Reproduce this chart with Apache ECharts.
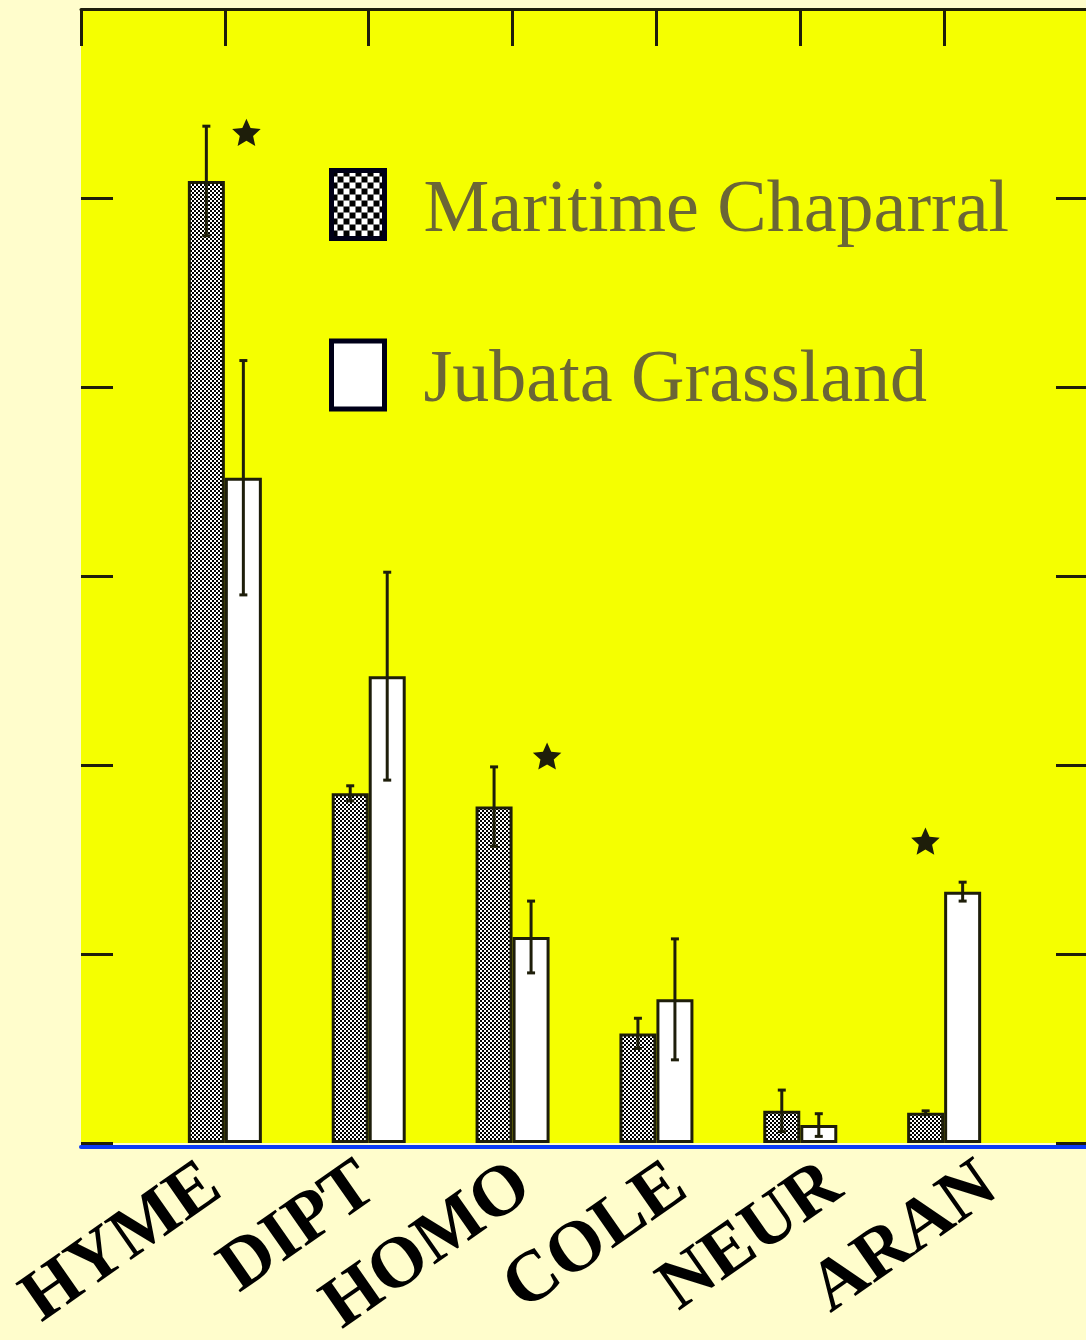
<!DOCTYPE html>
<html>
<head>
<meta charset="utf-8">
<script src="https://cdn.jsdelivr.net/npm/echarts@6/dist/echarts.min.js"></script>
<style>
  html, body { margin: 0; padding: 0; background: #fffdcc; }
  #main { width: 1086px; height: 1340px; }
</style>
</head>
<body>
<div id="main"></div>
<script>
// categories (blank slots at both ends keep the plot edges free)
var categories = ["", "HYME", "DIPT", "HOMO", "COLE", "NEUR", "ARAN", ""];
var maritime = [null, 5.09, 1.85, 1.78, 0.58, 0.17, 0.16, null];
var maritimeErr = [null, 0.29, 0.04, 0.21, 0.08, 0.11, 0.01, null];
var jubata = [null, 3.52, 2.47, 1.09, 0.76, 0.095, 1.33, null];
var jubataErr = [null, 0.62, 0.55, 0.19, 0.32, 0.06, 0.05, null];
// significance stars: x in category units, y in axis units
var starX = [1.15, 3.24, 5.87];
var starY = [5.34, 2.04, 1.59];

var ink = "#1e1e0a";

// checker fill
function checker(cell) {
  var c = document.createElement("canvas");
  c.width = cell * 2;
  c.height = cell * 2;
  var g = c.getContext("2d");
  g.fillStyle = "#fff";
  g.fillRect(0, 0, cell * 2, cell * 2);
  g.fillStyle = "#000";
  g.fillRect(0, 0, cell, cell);
  g.fillRect(cell, cell, cell, cell);
  return { image: c, repeat: "repeat" };
}

var errData = [];
for (var i = 0; i < categories.length; i++) {
  if (maritime[i] != null) errData.push([i, maritime[i], maritimeErr[i], -1]);
  if (jubata[i] != null) errData.push([i, jubata[i], jubataErr[i], 1]);
}
var starData = [];
for (var k = 0; k < starX.length; k++) starData.push([starX[k], starY[k]]);

// the tilted names sit a little wider apart than the bars, so they get their own axis
var labelNames = categories.slice(1, 7);

var myChart = echarts.init(document.getElementById("main"));
myChart.setOption({
  backgroundColor: "#fffdcc",
  animation: false,
  grid: [
    {
      left: 81,
      right: -2,
      top: 9,
      bottom: 197,
      outerBoundsMode: "none",
      containLabel: false,
      show: true,
      backgroundColor: "#f5ff00",
      borderWidth: 0,
    },
    {
      left: 214,
      right: 96,
      top: 1150,
      bottom: 169,
      outerBoundsMode: "none",
      containLabel: false,
    },
  ],
  legend: {
    orient: "vertical",
    left: 324,
    top: 163,
    itemWidth: 53,
    itemHeight: 68,
    itemGap: 90,
    formatter: function (name) {
      return "{t|" + name + "}";
    },
    textStyle: {
      rich: {
        t: {
          fontFamily: "Liberation Serif",
          fontSize: 74,
          color: "#6b6636",
          padding: [14, 0, 0, 34],
        },
      },
    },
    data: [
      {
        name: "Maritime Chaparral",
        icon: "rect",
        itemStyle: { color: checker(6), borderColor: "#000018", borderWidth: 5 },
      },
      {
        name: "Jubata Grassland",
        icon: "rect",
        itemStyle: { color: "#fff", borderColor: "#000018", borderWidth: 5 },
      },
    ],
  },
  xAxis: [
    {
      type: "category",
      data: categories,
      boundaryGap: false,
      position: "bottom",
      offset: 4,
      axisLine: { onZero: false, lineStyle: { color: "#0b3bf5", width: 4 } },
      axisTick: { show: false },
      axisLabel: { show: false },
    },
    {
      type: "category",
      data: categories,
      boundaryGap: false,
      position: "top",
      axisLine: { onZero: false, lineStyle: { color: ink, width: 3 } },
      axisTick: { inside: true, length: 37, lineStyle: { color: ink, width: 3 } },
      axisLabel: { show: false },
    },
    {
      type: "category",
      gridIndex: 1,
      data: labelNames,
      boundaryGap: false,
      position: "bottom",
      axisLine: { show: false, onZero: false },
      axisTick: { show: false },
      axisLabel: {
        interval: 0,
        rotate: 35,
        margin: 8,
        fontFamily: "Liberation Serif",
        fontWeight: "bold",
        fontSize: 72,
        color: "#000",
      },
    },
  ],
  yAxis: [
    {
      type: "value",
      min: 0,
      max: 6,
      interval: 1,
      position: "left",
      axisLine: { show: false },
      axisTick: { show: true, inside: true, length: 32, lineStyle: { color: ink, width: 3 } },
      axisLabel: { show: false },
      splitLine: { show: false },
    },
    {
      type: "value",
      min: 0,
      max: 6,
      interval: 1,
      position: "right",
      offset: -2,
      axisLine: { show: false },
      axisTick: { show: true, inside: true, length: 30, lineStyle: { color: ink, width: 3 } },
      axisLabel: { show: false },
      splitLine: { show: false },
    },
    {
      type: "value",
      gridIndex: 1,
      show: false,
    },
  ],
  series: [
    {
      name: "Maritime Chaparral",
      type: "bar",
      data: maritime,
      barWidth: 37,
      barGap: "0%",
      itemStyle: { color: checker(2), borderColor: ink, borderWidth: 3 },
    },
    {
      name: "Jubata Grassland",
      type: "bar",
      data: jubata,
      barWidth: 37,
      barGap: "0%",
      itemStyle: { color: "#fff", borderColor: ink, borderWidth: 3 },
    },
    {
      // error bars
      type: "custom",
      data: errData,
      z: 10,
      renderItem: function (params, api) {
        var x = api.coord([api.value(0), 0])[0] + api.value(3) * 18.5;
        var hi = api.coord([api.value(0), api.value(1) + api.value(2)])[1];
        var lo = api.coord([api.value(0), api.value(1) - api.value(2)])[1];
        var st = { stroke: ink, lineWidth: 3 };
        return {
          type: "group",
          children: [
            { type: "line", shape: { x1: x, y1: hi, x2: x, y2: lo }, style: st },
            { type: "line", shape: { x1: x - 4, y1: hi, x2: x + 4, y2: hi }, style: st },
            { type: "line", shape: { x1: x - 4, y1: lo, x2: x + 4, y2: lo }, style: st },
          ],
        };
      },
    },
    {
      // significance stars
      type: "custom",
      data: starData,
      z: 10,
      renderItem: function (params, api) {
        var v = api.value(0);
        var a = Math.floor(v);
        var p0 = api.coord([a, api.value(1)]);
        var p1 = api.coord([a + 1, api.value(1)]);
        var cx = p0[0] + (p1[0] - p0[0]) * (v - a);
        var cy = p0[1];
        var pts = [];
        for (var j = 0; j < 10; j++) {
          var r = j % 2 === 0 ? 15 : 7;
          var ang = -Math.PI / 2 + (j * Math.PI) / 5;
          pts.push([cx + r * Math.cos(ang), cy + r * Math.sin(ang)]);
        }
        return { type: "polygon", shape: { points: pts }, style: { fill: ink } };
      },
    },
  ],
});
</script>
</body>
</html>
